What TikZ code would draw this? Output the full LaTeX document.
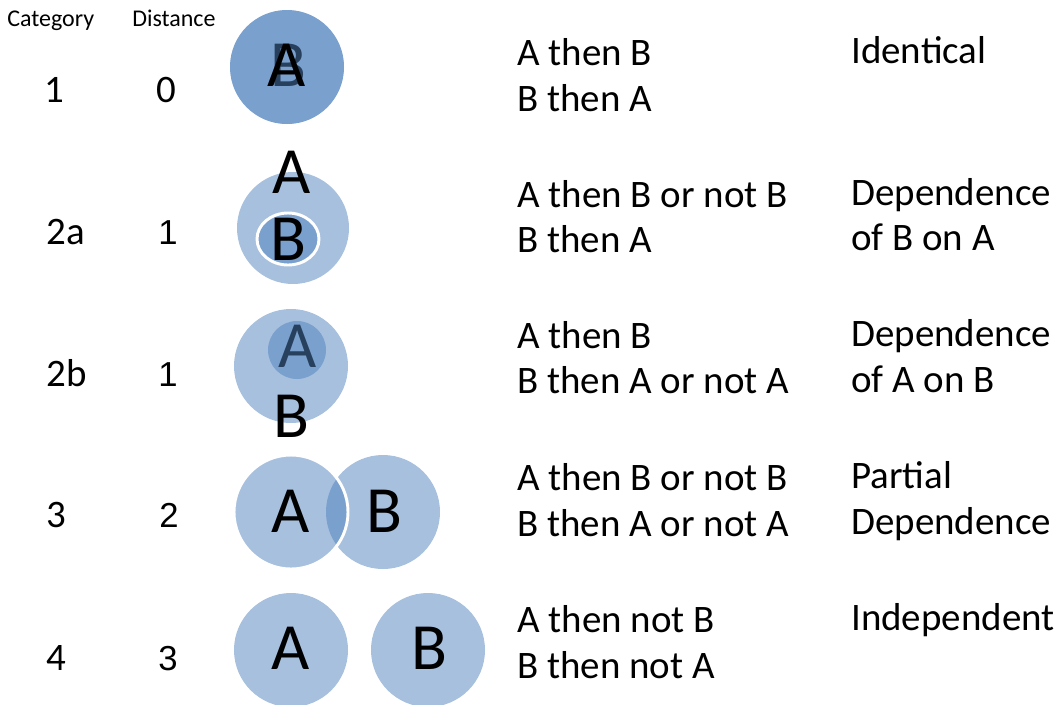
\documentclass[tikz,border=0pt]{standalone}
\usepackage{fontspec}
\setmainfont{Carlito}
\newfontfamily\arialf{Liberation Sans}
\definecolor{acc}{HTML}{4F81BD}
\newcommand\circfont{\fontsize{49.5pt}{59pt}\selectfont}
\newcommand\txtfont{\fontsize{29.2pt}{35pt}\selectfont}
\newcommand\hdrfont{\fontsize{18pt}{22pt}\selectfont}
\tikzset{
  blob/.style={fill=acc, fill opacity=0.5},
  wblob/.style={fill=acc, fill opacity=0.5, draw=white, line width=2.2pt},
  big/.style={font=\circfont, inner sep=0pt, anchor=base},
  txt/.style={font=\txtfont, inner sep=0pt, anchor=base west},
  hdr/.style={font=\hdrfont, inner sep=0pt, anchor=base west},
  cat/.style={font=\txtfont, inner sep=0pt, anchor=base west},
  dist/.style={font=\arialf\fontsize{26pt}{30pt}\selectfont, inner sep=0pt, anchor=base},
}
\begin{document}
\begin{tikzpicture}[x=0.75pt,y=-0.75pt]
\useasboundingbox (0,0) rectangle (1062,704);
% headers
\node[hdr] (hc) at (7,26) {Category};
\node[hdr] (hd) at (132,26) {Distance};
% ---- row 1
\fill[blob] (287,67) circle [radius=57];
\node[big] (r1B) at (288,86) {B};
\fill[blob] (287,67) circle [radius=57];
\node[big] (r1A) at (287,86) {A};
\node[cat] (c1) at (44,102) {1};
\node[big, font=\txtfont] (d1) at (166,102) {0};
\node[txt] (t1a) at (517,65) {A then B};
\node[txt] (t1b) at (517,111) {B then A};
\node[txt] (s1) at (851,63) {Identical};
% ---- row 2a
\fill[blob] (293,228) circle [radius=56];
\path[wblob] (288,239) ellipse [x radius=31, y radius=26];
\node[big] (r2A) at (292,193) {A};
\node[big] (r2B) at (288,260) {B};
\node[cat] (c2) at (46,244) {2a};
\node[dist] (d2) at (168,244) {1};
\node[txt] (t2a) at (517,207) {A then B or not B};
\node[txt] (t2b) at (517,252) {B then A};
\node[txt] (s2a) at (851,205) {Dependence};
\node[txt] (s2b) at (851,250) {of B on A};
% ---- row 2b
\fill[blob] (291,366) circle [radius=57];
\node[big] (r3A) at (298,367) {A};
\fill[blob] (297,350) circle [radius=29];
\node[big] (r3B) at (291,437) {B};
\node[cat] (c3) at (46,386) {2b};
\node[dist] (d3) at (168,386) {1};
\node[txt] (t3a) at (517,348) {A then B};
\node[txt] (t3b) at (517,393) {B then A or not A};
\node[txt] (s3a) at (851,346) {Dependence};
\node[txt] (s3b) at (851,392) {of A on B};
% ---- row 3
\fill[blob] (383,512) circle [radius=57];
\path[wblob] (291,512) circle [radius=57];
\node[big] (r4A) at (291,532) {A};
\node[big] (r4B) at (384,532) {B};
\node[cat] (c4) at (46,527) {3};
\node[dist] (d4) at (169,527) {2};
\node[txt] (t4a) at (517,490) {A then B or not B};
\node[txt] (t4b) at (517,536) {B then A or not A};
\node[txt] (s4a) at (851,488) {Partial};
\node[txt] (s4b) at (851,534) {Dependence};
% ---- row 4
\fill[blob] (291,650) circle [radius=57];
\fill[blob] (428,650) circle [radius=57];
\node[big] (r5A) at (291,669) {A};
\node[big] (r5B) at (429,669) {B};
\node[cat] (c5) at (46,670) {4};
\node[dist] (d5) at (168,670) {3};
\node[txt] (t5a) at (517,632) {A then not B};
\node[txt] (t5b) at (517,678) {B then not A};
\node[txt] (s5) at (851,630) {Independent};
\end{tikzpicture}
\end{document}
